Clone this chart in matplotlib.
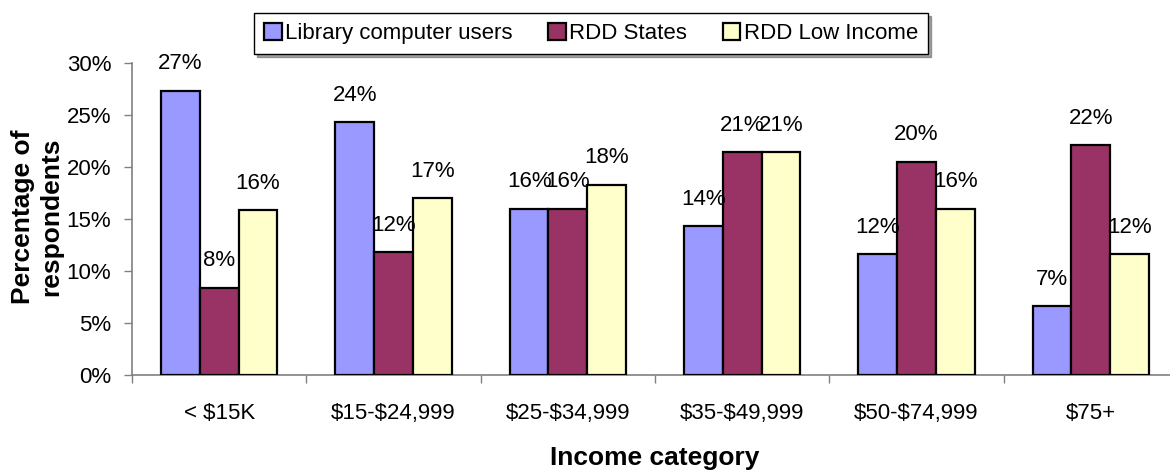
import matplotlib
matplotlib.use("Agg")
import matplotlib.pyplot as plt
import numpy as np

categories = ["< \\$15K", "\\$15-\\$24,999", "\\$25-\\$34,999", "\\$35-\\$49,999", "\\$50-\\$74,999", "\\$75+"]
series_names = ["Library computer users", "RDD States", "RDD Low Income"]
library_users = [27.3, 24.3, 16.0, 14.3, 11.6, 6.6]
rdd_states = [8.4, 11.8, 16.0, 21.4, 20.5, 22.1]
rdd_low_income = [15.85, 17.0, 18.3, 21.4, 16.0, 11.6]
colors = ["#9999FF", "#993366", "#FFFFCC"]
yticks = [0, 5, 10, 15, 20, 25, 30]

plt.rcParams['font.family'] = ['Liberation Sans', 'DejaVu Sans']

fig = plt.figure(figsize=(11.7, 4.74), dpi=100)
ax = fig.add_axes([132/1170, 99/474, 1046/1170, 312/474])

x = np.arange(len(categories))
w = 0.222
series = [library_users, rdd_states, rdd_low_income]
for i, (vals, name, c) in enumerate(zip(series, series_names, colors)):
    pos = x + (i - 1) * w
    ax.bar(pos, vals, width=w, color=c, edgecolor="black", linewidth=1.6, label=name, zorder=3)
    for xp, v in zip(pos, vals):
        ax.annotate(f"{round(v):.0f}%", xy=(xp, v), xytext=(0, 19.5), textcoords="offset points",
                    ha="center", va="center", fontsize=16, zorder=4)

ax.set_xlim(-0.5, len(categories) - 0.5)
ax.set_ylim(0, 30)
ax.set_yticks(yticks)
ax.set_yticklabels([f"{t}%" for t in yticks])
ax.set_xticks(x)
ax.set_xticklabels(categories)
ax.set_xticks(np.arange(len(categories) + 1) - 0.5, minor=True)
ax.tick_params(axis="x", which="major", length=0, pad=20, labelsize=16)
ax.tick_params(axis="x", which="minor", length=6, width=1, color="#808080", direction="out")
ax.tick_params(axis="y", which="major", length=6, width=1, color="#808080", direction="out", pad=9, labelsize=16)
for s in ["top", "right"]:
    ax.spines[s].set_visible(False)
for s in ["left", "bottom"]:
    ax.spines[s].set_color("#808080")
    ax.spines[s].set_linewidth(1.2)

fig.text(37/1170, 1 - 217/474, "Percentage of\nrespondents", rotation=90, ha="center", va="center",
         fontsize=19, fontweight="bold", linespacing=1.2, multialignment="center")
fig.text(655/1170, 1 - 458/474, "Income category", ha="center", va="center",
         fontsize=19, fontweight="bold")

leg = fig.legend(loc="center", bbox_to_anchor=(591/1170, 1 - 33.5/474), ncol=3, fontsize=16,
                 frameon=True, fancybox=False, shadow=True, edgecolor="black",
                 handlelength=0.8, handleheight=0.8, handletextpad=0.15, columnspacing=1.6,
                 borderpad=0.45, borderaxespad=0)
leg.get_frame().set_linewidth(1.0)
for h in leg.legend_handles:
    h.set_linewidth(1.6)

fig.savefig("out.png", dpi=100)
